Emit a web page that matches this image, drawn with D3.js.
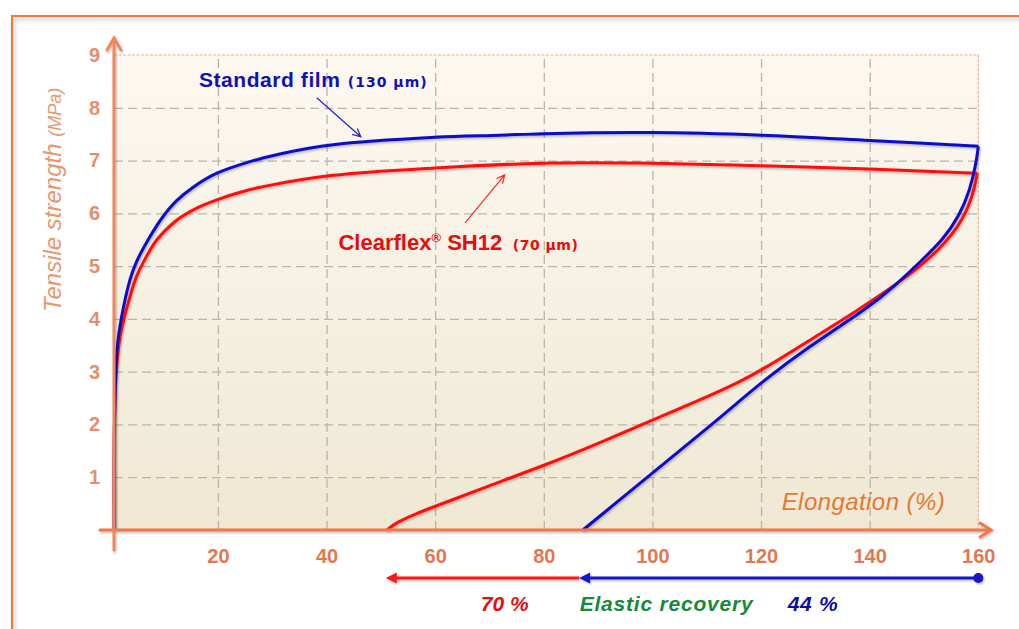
<!DOCTYPE html>
<html>
<head>
<meta charset="utf-8">
<script src="https://cdn.jsdelivr.net/npm/d3@7"></script>
<style>
body { margin: 0; background: #fff; }
svg { display: block; }
</style>
</head>
<body>
<svg id="chart" width="1019" height="629"></svg>
<script>
// elongation (%) vs tensile strength (MPa)
var blueLoadX = [0.9, 0.95, 1.2, 1.5, 2.2, 3.8, 5.0, 7.5, 9.9, 12.4, 15.5, 19.8, 25.9, 32, 41.2, 60, 72, 80, 100, 120, 140, 160];
var blueLoadY = [0, 2.0, 3.0, 3.5, 4.0, 4.74, 5.08, 5.56, 5.94, 6.24, 6.5, 6.76, 6.98, 7.14, 7.3, 7.44, 7.48, 7.51, 7.53, 7.48, 7.38, 7.27];
var blueUnloadX = [87.2, 100, 110, 116.1, 120.1, 128.4, 140, 144.9, 149.5, 153.5, 156.5, 158.5, 159.6, 160];
var blueUnloadY = [0, 1.08, 1.92, 2.45, 2.8, 3.45, 4.23, 4.65, 5.1, 5.5, 5.95, 6.45, 6.95, 7.27];

var redLoadX = [0.9, 0.95, 1.3, 1.9, 2.7, 3.8, 5.0, 6.3, 8.7, 12.4, 16.1, 19.9, 24.1, 29, 41.2, 60, 80, 100, 120, 140, 159.8];
var redLoadY = [0, 2.0, 3.0, 3.6, 4.0, 4.42, 4.8, 5.08, 5.49, 5.87, 6.1, 6.26, 6.4, 6.52, 6.72, 6.86, 6.95, 6.95, 6.9, 6.84, 6.76];
var redUnloadX = [51.1, 53, 56, 60, 70, 80, 90, 100, 110, 116.1, 120.1, 128.4, 137.9, 144.3, 151, 156.6, 159, 159.8];
var redUnloadY = [0, 0.15, 0.29, 0.45, 0.84, 1.22, 1.64, 2.08, 2.52, 2.81, 3.03, 3.56, 4.17, 4.61, 5.12, 5.75, 6.32, 6.76];

var xTicks = [20, 40, 60, 80, 100, 120, 140, 160];
var yTicks = [1, 2, 3, 4, 5, 6, 7, 8, 9];

// recovery arrows under the axis (elongation values)
var redRecovery = [86.5, 50.9];
var blueRecovery = [160, 86.5];

var svg = d3.select('#chart');

var x = d3.scaleLinear().domain([0, 160]).range([109.3, 978.3]);
var y = d3.scaleLinear().domain([0, 9]).range([530, 55]);

var plotLeft = 114,
    plotRight = x(160),
    plotTop = y(9),
    plotBottom = y(0);

var defs = svg.append('defs');

var bg = defs.append('linearGradient')
    .attr('id', 'bg')
    .attr('x1', 0).attr('y1', 0).attr('x2', 0).attr('y2', 1);
bg.append('stop').attr('offset', '0%').attr('stop-color', '#fdf9f1');
bg.append('stop').attr('offset', '100%').attr('stop-color', '#efe8d4');

var sh = defs.append('filter').attr('id', 'shadow')
    .attr('x', '-5%').attr('y', '-5%').attr('width', '110%').attr('height', '110%');
sh.append('feDropShadow')
    .attr('dx', 1).attr('dy', 1.5).attr('stdDeviation', 0.9)
    .attr('flood-color', '#000').attr('flood-opacity', 0.28);

var frameSh = defs.append('filter').attr('id', 'frameShadow')
    .attr('x', '-2%').attr('y', '-2%').attr('width', '104%').attr('height', '104%');
frameSh.append('feDropShadow')
    .attr('dx', 1.5).attr('dy', 2.5).attr('stdDeviation', 2)
    .attr('flood-color', '#000').attr('flood-opacity', 0.3);

// outer frame
svg.append('path')
    .attr('d', 'M12,640 V16 H1030')
    .attr('fill', 'none')
    .attr('stroke', '#ea7b3c')
    .attr('stroke-width', 2)
    .attr('filter', 'url(#frameShadow)');

// plot background
svg.append('rect')
    .attr('x', plotLeft)
    .attr('y', plotTop)
    .attr('width', plotRight - plotLeft)
    .attr('height', plotBottom - plotTop)
    .attr('fill', 'url(#bg)');

// grid
var gx = svg.append('g')
    .attr('transform', 'translate(0,' + plotBottom + ')')
    .call(d3.axisBottom(x)
        .tickValues(xTicks.slice(0, -1))
        .tickSize(-(plotBottom - plotTop))
        .tickFormat(''));
var gy = svg.append('g')
    .attr('transform', 'translate(' + plotLeft + ',0)')
    .call(d3.axisLeft(y)
        .tickValues(yTicks.slice(0, -1))
        .tickSize(-(plotRight - plotLeft))
        .tickFormat(''));
[gx, gy].forEach(function (g) {
    g.select('.domain').remove();
    g.selectAll('line')
        .attr('stroke', '#bab5ab')
        .attr('stroke-width', 1.3)
        .attr('stroke-dasharray', '9,5');
});

// plot border (top and right)
svg.append('path')
    .attr('d', 'M' + plotLeft + ',' + plotTop + ' H' + plotRight + ' V' + plotBottom)
    .attr('fill', 'none')
    .attr('stroke', '#f1ad90')
    .attr('stroke-width', 1.2)
    .attr('stroke-dasharray', '3,1.5');

// curves: loading runs through the points, unloading is smoothed
var loadLine = d3.line()
    .x(function (d) { return x(d[0]); })
    .y(function (d) { return y(d[1]); })
    .curve(d3.curveCatmullRom.alpha(0.5));
var unloadLine = d3.line()
    .x(function (d) { return x(d[0]); })
    .y(function (d) { return y(d[1]); })
    .curve(d3.curveBasis);

var curves = [
    { x: redLoadX, y: redLoadY, color: '#ff0e0e', gen: loadLine },
    { x: redUnloadX, y: redUnloadY, color: '#ff0e0e', gen: unloadLine },
    { x: blueLoadX, y: blueLoadY, color: '#0c0cc8', gen: loadLine },
    { x: blueUnloadX, y: blueUnloadY, color: '#0c0cc8', gen: unloadLine }
];

svg.append('g')
    .attr('filter', 'url(#shadow)')
    .selectAll('path')
    .data(curves)
    .enter()
    .append('path')
    .attr('d', function (d) { return d.gen(d3.zip(d.x, d.y)); })
    .attr('fill', 'none')
    .attr('stroke', function (d) { return d.color; })
    .attr('stroke-width', 3)
    .attr('stroke-linejoin', 'round');

// axes lines with open arrowheads
var axisColor = '#f27747';
var axes = svg.append('g')
    .attr('fill', 'none')
    .attr('stroke', axisColor)
    .attr('stroke-width', 3)
    .attr('stroke-linecap', 'round')
    .attr('filter', 'url(#shadow)');
axes.append('path').attr('d', 'M100,' + plotBottom + ' H990');
axes.append('path').attr('d', 'M980,' + (plotBottom - 7) + ' L991,' + plotBottom + ' L980,' + (plotBottom + 7));
axes.append('path').attr('d', 'M' + plotLeft + ',550 V39').attr('stroke', '#f2865a');
axes.append('path').attr('d', 'M' + (plotLeft - 7) + ',50 L' + plotLeft + ',38 L' + (plotLeft + 7) + ',50').attr('stroke', '#f2865a');

// tick labels
var xl = svg.append('g')
    .attr('transform', 'translate(0,' + plotBottom + ')')
    .call(d3.axisBottom(x).tickValues(xTicks).tickSize(0).tickPadding(19));
xl.select('.domain').remove();
xl.selectAll('text')
    .attr('fill', '#e27753')
    .style('font', 'bold 20px "Liberation Sans", Arial, sans-serif');

var yl = svg.append('g')
    .attr('transform', 'translate(' + plotLeft + ',0)')
    .call(d3.axisLeft(y).tickValues(yTicks).tickSize(0).tickPadding(14));
yl.select('.domain').remove();
yl.selectAll('text')
    .attr('fill', '#e38e6c')
    .style('font', 'bold 20px "Liberation Sans", Arial, sans-serif');

// axis titles
var ytitle = svg.append('text')
    .attr('transform', 'translate(61,312) rotate(-90)')
    .attr('fill', '#e9976d')
    .style('font', 'italic 24px "Liberation Sans", Arial, sans-serif');
ytitle.append('tspan').text('Tensile strength ');
ytitle.append('tspan').style('font-size', '18px').text('(MPa)');

svg.append('text')
    .attr('x', x(123.8))
    .attr('y', y(0.38))
    .attr('fill', '#e8782f')
    .attr('textLength', 163)
    .style('font', 'italic 24px "Liberation Sans", Arial, sans-serif')
    .text('Elongation (%)');

// annotations
function pointer(x0, y0, x1, y1, color) {
    var a = Math.atan2(y(y1) - y(y0), x(x1) - x(x0));
    var px = x(x1), py = y(y1), L = 9, s = 0.45;
    svg.append('path')
        .attr('d', 'M' + x(x0) + ',' + y(y0) + ' L' + px + ',' + py +
            ' M' + (px - L * Math.cos(a - s)) + ',' + (py - L * Math.sin(a - s)) +
            ' L' + px + ',' + py +
            ' L' + (px - L * Math.cos(a + s)) + ',' + (py - L * Math.sin(a + s)))
        .attr('fill', 'none')
        .attr('stroke', color)
        .attr('stroke-width', 1.3);
}
pointer(38.2, 8.19, 46.3, 7.45, '#2a2ac0');
pointer(65.5, 5.82, 72.8, 6.73, '#ff3030');

var smallFont = 'bold 14px "DejaVu Sans", Verdana, sans-serif';

svg.append('text')
    .attr('x', x(16.5)).attr('y', y(8.4))
    .attr('fill', '#1010b8')
    .attr('textLength', 141)
    .style('font', 'bold 21px "Liberation Sans", Arial, sans-serif')
    .text('Standard film');
svg.append('text')
    .attr('x', x(43.9)).attr('y', y(8.4))
    .attr('fill', '#1010b8')
    .attr('textLength', 79)
    .style('font', smallFont)
    .text('(130 µm)');

var cf = svg.append('text')
    .attr('x', x(42.2)).attr('y', y(5.3))
    .attr('fill', '#e80c0c')
    .style('font', 'bold 22px "Liberation Sans", Arial, sans-serif');
cf.append('tspan').text('Clearflex');
cf.append('tspan').attr('dy', -8).style('font-size', '13px').text('®');
cf.append('tspan').attr('dy', 8).text(' SH12');
svg.append('text')
    .attr('x', x(74.3)).attr('y', y(5.3))
    .attr('fill', '#e80c0c')
    .attr('textLength', 65)
    .style('font', smallFont)
    .text('(70 µm)');

// recovery arrows below the axis
var arrowY = 578;
var rec = svg.append('g').attr('filter', 'url(#shadow)');
rec.append('line')
    .attr('x1', x(redRecovery[0])).attr('x2', x(redRecovery[1]) + 4)
    .attr('y1', arrowY).attr('y2', arrowY)
    .attr('stroke', '#ff1414').attr('stroke-width', 3);
rec.append('path')
    .attr('d', 'M' + x(redRecovery[1]) + ',' + arrowY + ' l11,-5.5 v11 z')
    .attr('fill', '#ff1414');
rec.append('line')
    .attr('x1', x(blueRecovery[0])).attr('x2', x(blueRecovery[1]) + 4)
    .attr('y1', arrowY).attr('y2', arrowY)
    .attr('stroke', '#1414c8').attr('stroke-width', 3);
rec.append('path')
    .attr('d', 'M' + x(blueRecovery[1]) + ',' + arrowY + ' l11,-5.5 v11 z')
    .attr('fill', '#1414c8');
rec.append('circle')
    .attr('cx', x(blueRecovery[0])).attr('cy', arrowY).attr('r', 5)
    .attr('fill', '#1414c8');

var bi = 'italic bold 21px "Liberation Sans", Arial, sans-serif';
svg.append('text')
    .attr('x', x(68.4)).attr('y', 611)
    .attr('fill', '#e80c0c').attr('textLength', 48)
    .style('font', bi).text('70 %');
svg.append('text')
    .attr('x', x(86.6)).attr('y', 611)
    .attr('fill', '#168a3a').attr('textLength', 173)
    .style('font', bi).text('Elastic recovery');
svg.append('text')
    .attr('x', x(124.9)).attr('y', 611)
    .attr('fill', '#0c0ca8').attr('textLength', 50)
    .style('font', bi).text('44 %');
</script>
</body>
</html>
